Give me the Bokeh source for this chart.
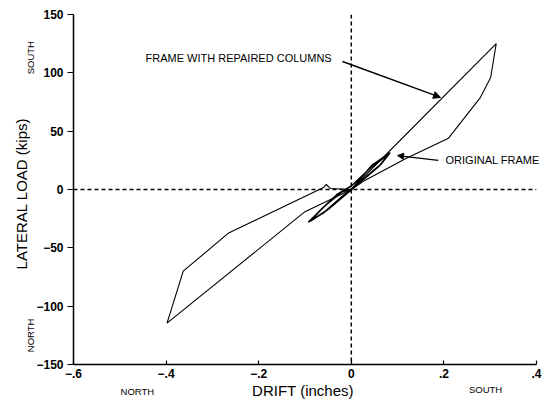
import math
from bokeh.plotting import figure
from bokeh.models import Range1d, Span, Arrow, NormalHead, FixedTicker
from bokeh.core.properties import value
from bokeh.embed import file_html
from bokeh.resources import INLINE

# ---- data ----
repaired_drift = [0.0, 0.313, 0.301, 0.279, 0.21, 0.12, 0.03, 0.0, -0.10, -0.398,
                  -0.363, -0.266, -0.06, -0.054, -0.045, 0.0]
repaired_load = [0.0, 125.0, 96.0, 79.0, 44.0, 27.0, 8.0, 0.0, -19.0, -114.5,
                 -70.0, -37.6, 1.7, 4.3, 0.8, 0.0]

original_drift = [0.0, 0.045, 0.084, 0.065, 0.02, -0.02, -0.06, -0.093, -0.07, -0.03, 0.0,
                  0.04, 0.08, 0.06, 0.01, -0.05, -0.088, -0.06, -0.02, 0.0]
original_load = [0.0, 21.0, 31.6, 22.0, 7.0, -6.0, -20.0, -28.0, -19.0, -4.0, 3.0,
                 18.0, 30.0, 20.0, 3.0, -17.0, -27.0, -15.0, -2.0, 0.0]

x_ticks = [-0.6, -0.4, -0.2, 0.0, 0.2, 0.4]
x_tick_labels = ["\u2212.6", "\u2212.4", "\u2212.2", "0", ".2", ".4"]
y_ticks = [-150, -100, -50, 0, 50, 100, 150]
y_tick_labels = ["\u2212150", "\u2212100", "\u221250", "0", "50", "100", "150"]

series_names = ["FRAME WITH REPAIRED COLUMNS", "ORIGINAL FRAME"]
direction_names = ["SOUTH", "NORTH"]

FONT = "Liberation Sans"

p = figure(width=542, height=405, output_backend="svg", toolbar_location=None,
           x_range=Range1d(-0.6, 0.4), y_range=Range1d(-150, 150),
           min_border_left=73, min_border_right=6, min_border_top=14,
           min_border_bottom=41)
p.outline_line_color = None
p.xgrid.visible = False
p.ygrid.visible = False

# axes
p.xaxis.ticker = FixedTicker(ticks=x_ticks)
p.xaxis.major_label_overrides = {t: l for t, l in zip(x_ticks, x_tick_labels)}
p.yaxis.ticker = FixedTicker(ticks=y_ticks)
p.yaxis.major_label_overrides = {t: l for t, l in zip(y_ticks, y_tick_labels)}
for ax in (p.xaxis, p.yaxis):
    ax.axis_line_color = "black"
    ax.axis_line_width = 1.5
    ax.major_tick_line_color = "black"
    ax.major_tick_line_width = 1.2
    ax.minor_tick_line_color = None
    ax.major_label_text_font = FONT
    ax.major_label_text_font_style = "bold"
    ax.major_label_text_font_size = "12px"
    ax.major_label_text_color = "black"
    ax.axis_label_text_font = FONT
    ax.axis_label_text_font_style = "normal"
    ax.axis_label_text_font_size = "15px"
    ax.axis_label_text_color = "black"
p.xaxis.major_tick_in = 4
p.xaxis.major_tick_out = 0
p.yaxis.major_tick_in = 0
p.yaxis.major_tick_out = 6
p.xaxis.major_label_standoff = 4
p.yaxis.major_label_standoff = 4
p.xaxis.axis_label = "DRIFT  (inches)"
p.yaxis.axis_label = "LATERAL  LOAD  (kips)"
p.xaxis.axis_label_standoff = 1
p.yaxis.axis_label_standoff = 3

# dashed zero lines
p.add_layout(Span(location=0, dimension="height", line_color="black",
                  line_dash="4 3", line_width=1.5))
p.add_layout(Span(location=0, dimension="width", line_color="black",
                  line_dash="4 3", line_width=1.3))

# curves
p.line(repaired_drift, repaired_load, line_color="black", line_width=1.1)
p.line(original_drift, original_load, line_color="black", line_width=1.5)

# callout texts (overlay level so they are not clipped to the frame)
p.text(x=[-0.4445, 0.2035], y=[113, 25], text=series_names,
       text_font=value(FONT), text_font_size="11px", text_color="black",
       text_baseline="middle", text_align="left", level="overlay")
p.add_layout(Arrow(x_start=-0.019, y_start=109.7, x_end=0.1927, y_end=78.9,
                   line_color="black", line_width=1.4,
                   end=NormalHead(size=7, fill_color="black", line_color="black")))
p.add_layout(Arrow(x_start=0.188, y_start=25, x_end=0.0998, y_end=29.1,
                   line_color="black", line_width=1.2,
                   end=NormalHead(size=6, fill_color="black", line_color="black")))

# direction labels outside the frame
p.text(x=[-0.693, -0.693], y=[113, -125], text=direction_names, angle=math.pi / 2,
       text_font=value(FONT), text_font_size="9.5px", text_color="black",
       text_align="center", text_baseline="middle", level="overlay")
p.text(x=[0.29, -0.462], y=[-171, -173], text=direction_names,
       text_font=value(FONT), text_font_size="9.5px", text_color="black",
       text_align="center", text_baseline="middle", level="overlay")

open("out.html", "w").write(file_html(p, INLINE))
